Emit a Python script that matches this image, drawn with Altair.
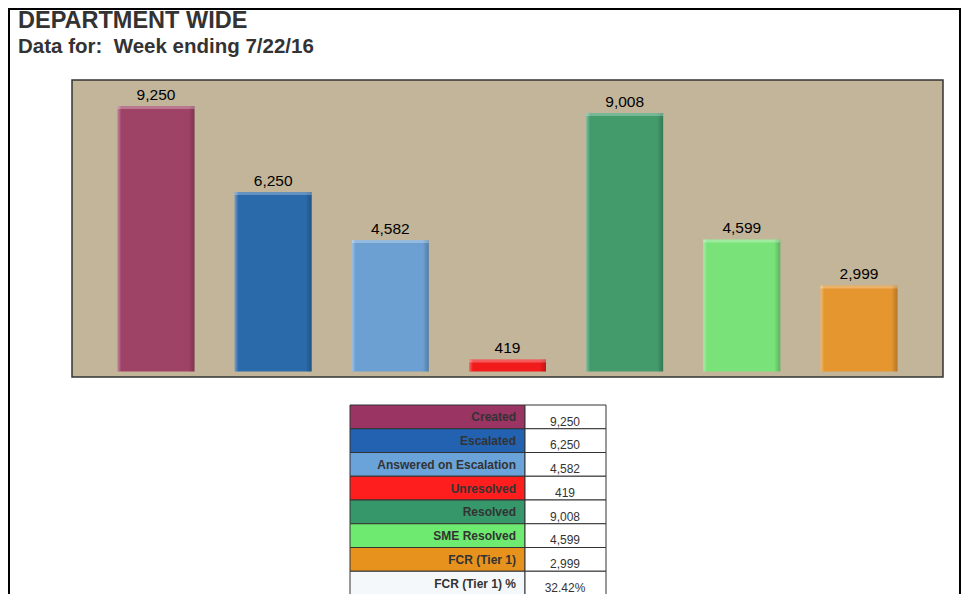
import altair as alt
import pandas as pd

# ---- data ----
categories = ["Created", "Escalated", "Answered on Escalation", "Unresolved",
              "Resolved", "SME Resolved", "FCR (Tier 1)"]
values = [9250, 6250, 4582, 419, 9008, 4599, 2999]
bar_colors = ["#9F4366", "#2A6AAA", "#6CA0D2", "#F21B1B", "#439B6C", "#79E279", "#E5962F"]

table_labels = ["Created", "Escalated", "Answered on Escalation", "Unresolved",
                "Resolved", "SME Resolved", "FCR (Tier 1)", "FCR (Tier 1) %"]
table_values = ["9,250", "6,250", "4,582", "419", "9,008", "4,599", "2,999", "32.42%"]
table_colors = ["#9A3462", "#2262B0", "#6AA3DA", "#FF1E1E", "#35976A", "#6EEA70", "#E8921E", "#F5F8FA"]

title_text = "DEPARTMENT WIDE"
subtitle_text = "Data for:\u00a0 Week ending 7/22/16"

FONT = "Liberation Sans"

bars_df = pd.DataFrame({"category": categories, "value": values})
table_df = pd.DataFrame({"label": table_labels, "shown": table_values})

# ---- bar chart ----
x_enc = alt.X("category:N", sort=categories, axis=None,
              scale=alt.Scale(domain=categories, paddingInner=0.343, paddingOuter=0.3885))
y_enc = alt.Y("value:Q", axis=None,
              scale=alt.Scale(domain=[-192, 10156], nice=False))

base = alt.Chart(bars_df).encode(x=x_enc, y=y_enc)

bars = base.mark_bar().encode(
    y2=alt.datum(0),
    color=alt.Color("category:N", legend=None,
                    scale=alt.Scale(domain=categories, range=bar_colors)),
)

bevel = base.mark_bar(
    fill=alt.Gradient(
        gradient="linear",
        x1=0, x2=1, y1=0, y2=0,
        stops=[
            alt.GradientStop(color="rgba(255,255,255,0.35)", offset=0),
            alt.GradientStop(color="rgba(255,255,255,0)", offset=0.05),
            alt.GradientStop(color="rgba(0,0,0,0)", offset=0.92),
            alt.GradientStop(color="rgba(0,0,0,0.22)", offset=1),
        ],
    )
).encode(y2=alt.datum(0))

top_strip = base.mark_tick(color="white", opacity=0.28, thickness=3, size=77, yOffset=1.5)

bar_labels = base.mark_text(
    baseline="alphabetic", dy=-6, fontSize=15.5, color="#000", font=FONT
).encode(text=alt.Text("value:Q", format=","))

bar_layer = alt.layer(bars, bevel, top_strip, bar_labels)

# ---- table ----
ty = alt.Y("label:N", sort=table_labels, axis=None,
           scale=alt.Scale(domain=table_labels, range=[325, 515],
                           paddingInner=0, paddingOuter=0))
tbase = alt.Chart(table_df).encode(y=ty)

label_cells = tbase.mark_rect(stroke="#333", strokeWidth=1).encode(
    x=alt.value(278), x2=alt.value(453),
    color=alt.Color("label:N", legend=None,
                    scale=alt.Scale(domain=table_labels, range=table_colors)),
)
value_cells = tbase.mark_rect(fill="white", stroke="#333", strokeWidth=1).encode(
    x=alt.value(453), x2=alt.value(534)
)
label_text = tbase.mark_text(
    align="right", baseline="alphabetic", dy=4.5, fontSize=12, fontWeight="bold",
    color="#333", font=FONT
).encode(x=alt.value(444), text="label:N")
value_text = tbase.mark_text(
    align="center", baseline="alphabetic", dy=8.8, fontSize=12,
    color="#333", font=FONT
).encode(x=alt.value(493), text="shown:N")

table_layer = alt.layer(label_cells, value_cells, label_text, value_text)

# ---- decorations ----
one = alt.Data(values=[{}])
title1 = alt.Chart(one).mark_text(
    text=title_text, align="left", baseline="alphabetic", fontSize=23.5,
    fontWeight="bold", color="#333", font=FONT
).encode(x=alt.value(-54), y=alt.value(-52))
title2 = alt.Chart(one).mark_text(
    text=subtitle_text, align="left", baseline="alphabetic", fontSize=20.5,
    fontWeight="bold", color="#333", font=FONT
).encode(x=alt.value(-54), y=alt.value(-27))
border = alt.Chart(one).mark_rect(
    fillOpacity=0, fill="white", stroke="black", strokeWidth=2
).encode(x=alt.value(-63), x2=alt.value(888), y=alt.value(-71), y2=alt.value(540))

chart = alt.layer(bar_layer, table_layer, title1, title2, border).resolve_scale(
    x="independent", y="independent", color="independent"
).properties(
    width=871, height=297,
    autosize=alt.AutoSizeParams(type="none"),
    padding={"left": 64, "top": 72, "right": 18, "bottom": 217},
    background="white",
).configure_view(
    fill="#C3B59A", stroke="#333", strokeWidth=1.5
)

chart.save("out.html", embed_options={"renderer": "svg", "actions": False})
